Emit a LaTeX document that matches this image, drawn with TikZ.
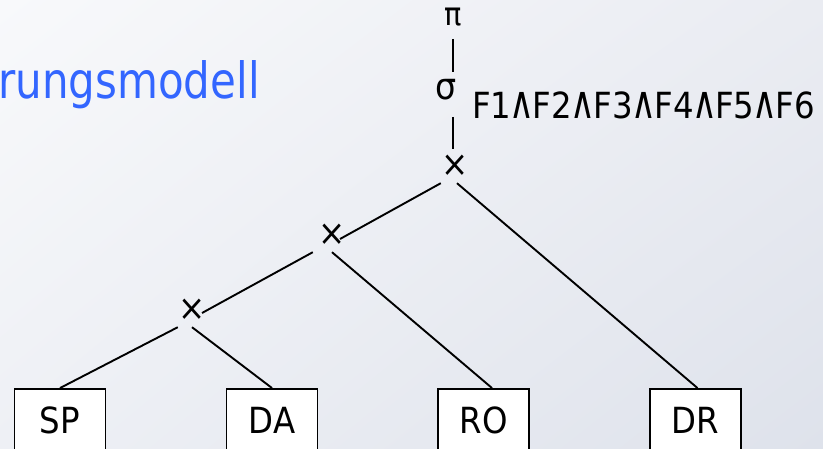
\documentclass[tikz,border=0pt]{standalone}
\usepackage{fontspec}
\setmainfont{DejaVu Sans}[FakeStretch=0.9]
\newfontfamily\titlefont{DejaVu Sans}[FakeStretch=0.84]
\usetikzlibrary{positioning,shadings}
\definecolor{titleblue}{RGB}{51,102,255}
\definecolor{bgul}{RGB}{248,249,251}
\definecolor{bgur}{RGB}{234,236,242}
\definecolor{bgll}{RGB}{238,240,245}
\definecolor{bglr}{RGB}{222,226,235}
\newcommand{\condand}{\makebox[21.5pt]{\scalebox{1.05}[1.25]{∧}}}

\begin{document}
\begin{tikzpicture}[x=1pt,y=-1pt,
		edge/.style={line width=1.9pt},
		op/.style={inner sep=0pt,minimum width=28pt,minimum height=34pt,font=\fontsize{36}{36}\selectfont},
		greek/.style={inner sep=0pt,font=\fontsize{32}{32}\selectfont},
		relbox/.style={draw,fill=white,line width=1.9pt,minimum width=91pt,minimum height=62pt,inner sep=0pt,font=\fontsize{36}{36}\selectfont}]
		\useasboundingbox (0,0) rectangle (823,449);
		\clip (0,0) rectangle (823,449);
		\shade[upper left=bgul,upper right=bgur,lower left=bgll,lower right=bglr] (0,0) rectangle (823,449);
		
		\node[anchor=base west,text=titleblue,inner sep=0pt,font=\titlefont\fontsize{50}{50}\selectfont] (title) at (-2,99) {rungsmodell};
		
		\node[greek] (pi) at (453,17) {π};
		\node[greek,font=\fontsize{37}{37}\selectfont] (sigma) at (446,90) {σ};
		\node[anchor=base west,inner sep=0pt,font=\fontsize{36}{36}\selectfont] (cond) at (472,119) {F1\condand F2\condand F3\condand F4\condand F5\condand F6};
		
		\node[op] (c1) at (455,166) {×};
		\node[op] (c2) at (332,235) {×};
		\node[op] (c3) at (192,310) {×};
		
		\node[relbox] (sp) at (60,420) {SP};
		\node[relbox] (da) at (272,420) {DA};
		\node[relbox] (ro) at (483.5,420) {RO};
		\node[relbox] (dr) at (695.5,420) {DR};
		
		\draw[edge] ([yshift=-22pt]pi.center) -- ([yshift=18pt]pi.center |- sigma.center);
		\draw[edge] ([yshift=-27pt]pi.center |- sigma.center) -- (pi.center |- c1.north);
		
		\draw[edge] (c1.south west) -- ([shift={(8,4)}]c2.center);
		\draw[edge] ([xshift=2pt]c1.south) -- ([xshift=2pt]dr.north);
		\draw[edge] ([xshift=-5pt]c2.south west) -- ([shift={(10,3)}]c3.center);
		\draw[edge] (c2.south) -- ([xshift=8.5pt]ro.north);
		\draw[edge] (c3.south west) -- (sp.north);
		\draw[edge] (c3.south) -- (da.north);
\end{tikzpicture}
\end{document}
